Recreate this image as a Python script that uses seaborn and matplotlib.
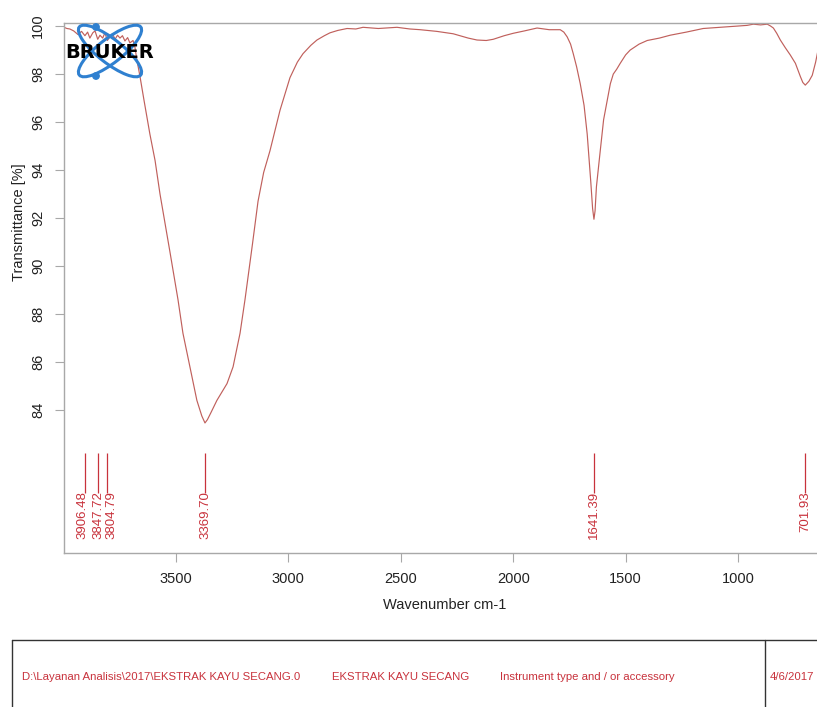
import matplotlib
matplotlib.use("Agg")
import matplotlib.pyplot as plt
from matplotlib import font_manager
from matplotlib.patches import Ellipse, Circle
import seaborn as sns
import pandas as pd

# ---------------- data ----------------
wavenumber = [3998, 3985, 3972, 3955, 3936, 3920, 3905, 3893, 3883, 3870, 3860, 3848,
              3838, 3826, 3816, 3805, 3794, 3782, 3771, 3760, 3749, 3738, 3727, 3715,
              3705, 3691, 3683, 3674, 3660, 3642, 3616, 3593, 3571, 3527, 3491, 3469,
              3438, 3407, 3385, 3371, 3360, 3344, 3318, 3273, 3246, 3215, 3193, 3160,
              3135, 3110, 3082, 3037, 2993, 2960, 2935, 2900, 2873, 2840, 2815, 2780,
              2739, 2700, 2668, 2600, 2517, 2460, 2414, 2340, 2267, 2200, 2161, 2120,
              2089, 2040, 2000, 1950, 1894, 1840, 1791, 1775, 1760, 1745, 1733, 1718,
              1702, 1685, 1671, 1655, 1647, 1641, 1636, 1630, 1613, 1598, 1582, 1568, 1555, 1540,
              1524, 1500, 1480, 1440, 1404, 1350, 1302, 1230, 1155, 1080, 1004, 960,
              932, 900, 870, 855, 843, 828, 812, 790, 768, 745, 723, 712, 701, 685,
              670, 655, 640]
transmittance = [99.95, 99.90, 99.88, 99.80, 99.65, 99.78, 99.60, 99.75, 99.50, 99.72, 99.80, 99.45,
                 99.62, 99.50, 99.72, 99.40, 99.55, 99.68, 99.45, 99.62, 99.50, 99.60, 99.38, 99.52,
                 99.30, 99.40, 99.15, 98.60, 97.90, 96.90, 95.50, 94.40, 93.00, 90.60, 88.60, 87.20,
                 85.80, 84.40, 83.75, 83.46, 83.60, 83.90, 84.40, 85.10, 85.80, 87.20, 88.60, 90.90,
                 92.70, 93.90, 94.80, 96.50, 97.85, 98.50, 98.85, 99.20, 99.42, 99.60, 99.72, 99.82,
                 99.90, 99.88, 99.95, 99.90, 99.95, 99.88, 99.85, 99.78, 99.68, 99.50, 99.42, 99.40,
                 99.45, 99.60, 99.70, 99.80, 99.92, 99.85, 99.85, 99.75, 99.55, 99.25, 98.85, 98.30,
                 97.60, 96.70, 95.50, 93.50, 92.40, 91.95, 92.30, 93.30, 94.80, 96.10, 96.90, 97.60, 98.00, 98.20,
                 98.45, 98.80, 99.00, 99.25, 99.40, 99.50, 99.62, 99.75, 99.90, 99.95, 100.00, 100.03,
                 100.08, 100.05, 100.08, 100.00, 99.92, 99.70, 99.42, 99.10, 98.80, 98.45, 97.90, 97.65,
                 97.54, 97.70, 97.95, 98.50, 99.20]

peaks = [3906.48, 3847.72, 3804.79, 3369.70, 1641.39, 701.93]

x_ticks = [3500, 3000, 2500, 2000, 1500, 1000]
y_ticks = [84, 86, 88, 90, 92, 94, 96, 98, 100]

footer_texts = ["D:\\Layanan Analisis\\2017\\EKSTRAK KAYU SECANG.0",
                "EKSTRAK KAYU SECANG",
                "Instrument type and / or accessory",
                "4/6/2017"]

# ---------------- style ----------------
sns.set_theme(style="white")
plt.rcParams["font.family"] = ["Liberation Sans", "DejaVu Sans"]

LINE_C = "#c0605c"
LABEL_C = "#c8323c"
GRAY = "#a8a8a8"

W, H = 817, 707
fig = plt.figure(figsize=(W / 100, H / 100), dpi=100)
fig.patch.set_facecolor("white")

# main axes in pixel geometry (right end runs off the canvas like the reference)
left_px, right_px, top_px, bot_px = 64, 828, 22.5, 553
ax = fig.add_axes([left_px / W, 1 - bot_px / H, (right_px - left_px) / W, (bot_px - top_px) / H])

df = pd.DataFrame({"wavenumber": wavenumber, "transmittance": transmittance})
sns.lineplot(data=df, x="wavenumber", y="transmittance", sort=False, color=LINE_C,
             linewidth=0.85, ax=ax, estimator=None)

ax.set_xlim(3998, 600)
ax.set_ylim(78.04, 100.15)

# peak markers
ax.vlines(peaks, 80.55, 82.22, color=LABEL_C, linewidth=0.9)
offsets = {3906.48: -1.2, 3847.72: 0.2, 3804.79: 2.6}
for p in peaks:
    ax.annotate(f"{p:.2f}", xy=(p, 80.62), xytext=(offsets.get(p, 0), 0),
                textcoords="offset points", rotation=90, ha="center", va="top",
                color=LABEL_C, fontsize=9.5)

ax.set_xticks(x_ticks)
ax.set_yticks(y_ticks)
ax.tick_params(axis="both", which="both", direction="out", length=6.5, width=0.8,
               color=GRAY, labelsize=10.5, labelcolor="#222222", pad=7,
               left=True, bottom=True)
for lbl in ax.get_yticklabels():
    lbl.set_rotation(90)
    lbl.set_va("center")

for name, sp in ax.spines.items():
    sp.set_color(GRAY)
    sp.set_linewidth(1.0)
ax.spines["right"].set_visible(False)

ax.set_xlabel("Wavenumber cm-1", fontsize=10.5, color="#222222")
ax.set_ylabel("Transmittance [%]", fontsize=10.5, color="#222222")
ax.xaxis.set_label_coords((445 - left_px) / (right_px - left_px), (bot_px - 598) / (bot_px - top_px))
ax.yaxis.set_label_coords((19 - left_px) / (right_px - left_px), (bot_px - 222) / (bot_px - top_px))
ax.yaxis.label.set_va("center")

# ---------------- overlay (logo + footer) in pixel coordinates ----------------
ov = fig.add_axes([0, 0, 1, 1], facecolor="none")
ov.set_xlim(0, W)
ov.set_ylim(H, 0)
ov.axis("off")

BLUE = "#2f80d0"
ov.add_patch(Ellipse((110, 51), 78, 24, angle=38, fill=False, edgecolor=BLUE, linewidth=2.2))
ov.add_patch(Ellipse((110, 51), 78, 24, angle=-38, fill=False, edgecolor=BLUE, linewidth=2.2))
ov.add_patch(Circle((96, 27), 3.2, color=BLUE))
ov.add_patch(Circle((96, 76), 3.2, color=BLUE))
ov.text(109.5, 52, "BRUKER", ha="center", va="center", fontsize=14, fontweight="bold",
        color="black", family=["DejaVu Sans"])

# footer box
ov.plot([12, 817], [640, 640], color="#333333", linewidth=1.0)
ov.plot([12, 12], [640, 707], color="#333333", linewidth=1.0)
ov.plot([765, 765], [640, 707], color="#333333", linewidth=1.0)

available = {f.name for f in font_manager.fontManager.ttflist}
if "Liberation Sans Narrow" in available:
    ffam, fsz = ["Liberation Sans Narrow", "DejaVu Sans"], 9.5
else:
    ffam, fsz = ["Liberation Sans", "DejaVu Sans"], 8.2
for xpos, txt in zip([22, 332, 500, 770], footer_texts):
    ov.text(xpos, 677, txt, ha="left", va="center", fontsize=fsz, color=LABEL_C, family=ffam)

fig.savefig("out.png", dpi=100, facecolor="white")
